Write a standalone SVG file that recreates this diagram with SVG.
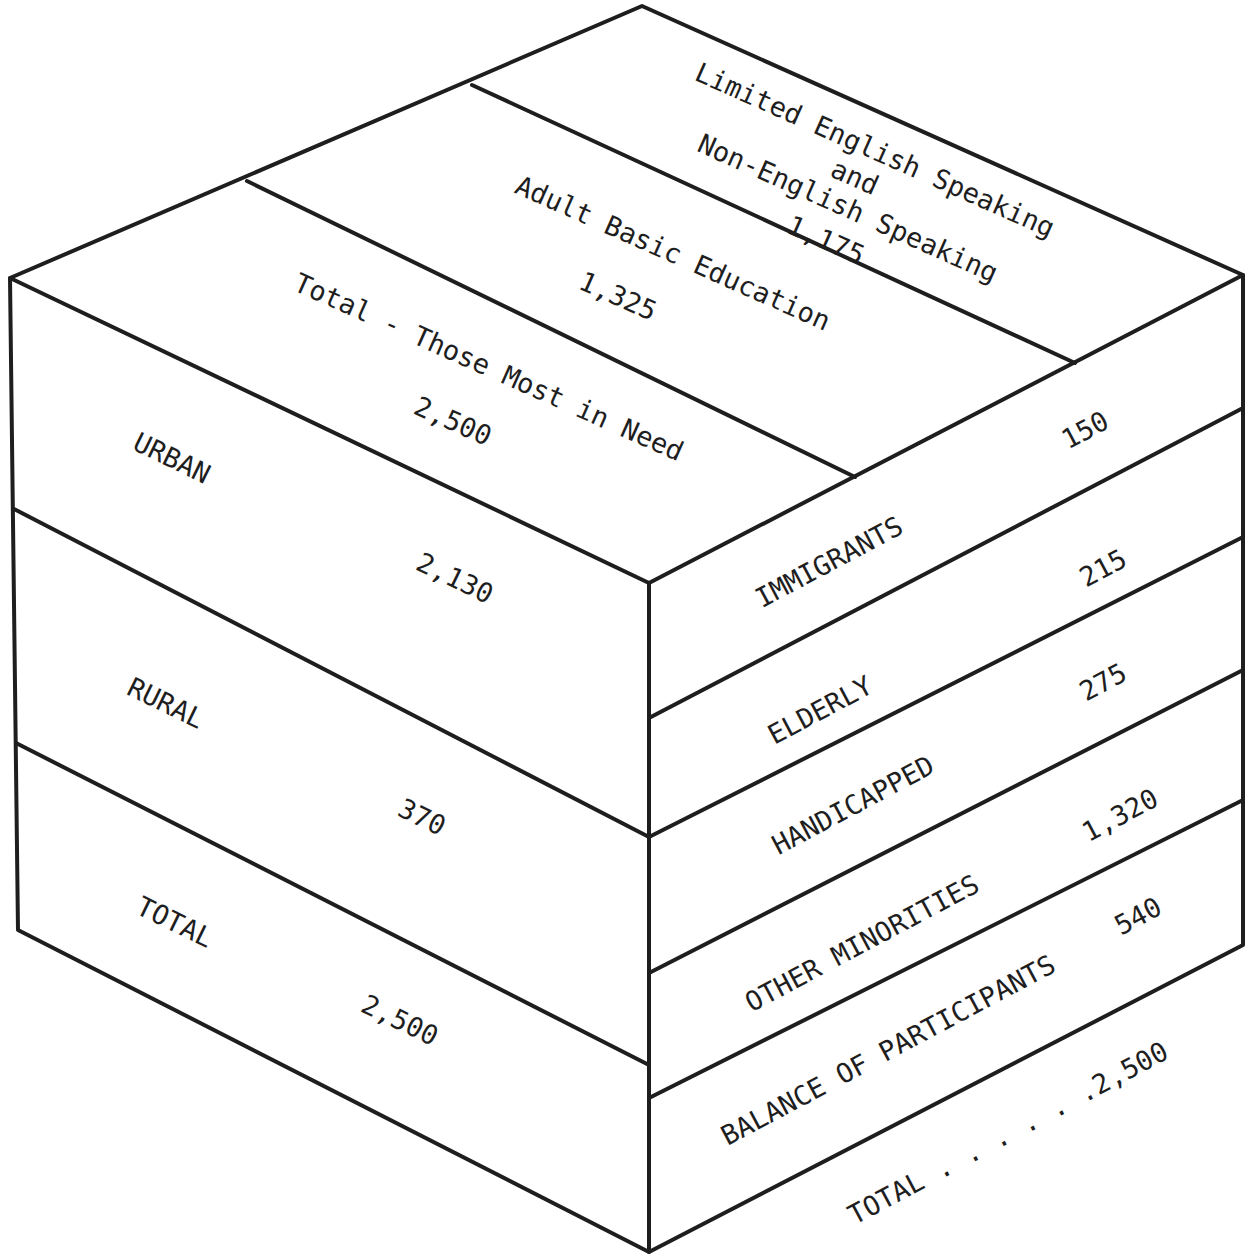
<svg xmlns="http://www.w3.org/2000/svg" width="1250" height="1256" viewBox="0 0 1250 1256">
<style>
.ln{stroke:#1e1e1e;stroke-width:4;fill:none;stroke-linejoin:round;stroke-linecap:round}
text{font-family:"DejaVu Sans Mono","Liberation Mono",monospace;font-size:27px;fill:#1e1e1e;text-anchor:middle}
</style>
<rect width="1250" height="1256" fill="#ffffff"/>
<g id="connectors">
<path class="ln" d="M10,278 L642,6 L1243,275 L1243,945 L649,1252 L18,930 Z"/>
<path class="ln" d="M10,278 L649,583 L1243,275"/>
<path class="ln" d="M649,583 L649,1252"/>
<path class="ln" d="M472,85 L1075,363"/>
<path class="ln" d="M247,181 L855,477"/>
<path class="ln" d="M14,509 L649,837"/>
<path class="ln" d="M16,743 L649,1065"/>
<path class="ln" d="M649,718 L1243,408"/>
<path class="ln" d="M649,837 L1243,537"/>
<path class="ln" d="M649,973 L1243,670"/>
<path class="ln" d="M649,1098 L1243,800"/>
</g>
<g id="top-lep"><text transform="translate(875,150) rotate(24)" dy="0.35em">Limited English Speaking</text>
<text transform="translate(855,177) rotate(24)" dy="0.35em">and</text>
<text transform="translate(848,208) rotate(24)" dy="0.35em">Non-English Speaking</text>
<text transform="translate(826,240) rotate(24)" dy="0.35em">1,175</text></g>
<g id="top-abe"><text transform="translate(673,253) rotate(24)" dy="0.35em">Adult Basic Education</text>
<text transform="translate(618,296) rotate(24)" dy="0.35em">1,325</text></g>
<g id="top-total"><text transform="translate(489,367) rotate(24)" dy="0.35em">Total - Those Most in Need</text>
<text transform="translate(453,421) rotate(24)" dy="0.35em">2,500</text></g>
<g id="left-urban"><text transform="translate(172,458) rotate(26)" dy="0.35em">URBAN</text>
<text transform="translate(455,578) rotate(26)" dy="0.35em">2,130</text></g>
<g id="left-rural"><text transform="translate(166,703) rotate(26)" dy="0.35em">RURAL</text>
<text transform="translate(422,817) rotate(26)" dy="0.35em">370</text></g>
<g id="left-total"><text transform="translate(175,922) rotate(26)" dy="0.35em">TOTAL</text>
<text transform="translate(400,1020) rotate(26)" dy="0.35em">2,500</text></g>
<g id="right-immigrants"><text transform="translate(1085,430) rotate(-28)" dy="0.35em">150</text>
<text transform="translate(829,562) rotate(-28)" dy="0.35em">IMMIGRANTS</text></g>
<g id="right-elderly"><text transform="translate(1103,568) rotate(-28)" dy="0.35em">215</text>
<text transform="translate(820,710) rotate(-28)" dy="0.35em">ELDERLY</text></g>
<g id="right-handicapped"><text transform="translate(1103,682) rotate(-28)" dy="0.35em">275</text>
<text transform="translate(853,805) rotate(-28)" dy="0.35em">HANDICAPPED</text></g>
<g id="right-minorities"><text transform="translate(1120,815) rotate(-28)" dy="0.35em">1,320</text>
<text transform="translate(862,943) rotate(-28)" dy="0.35em">OTHER MINORITIES</text></g>
<g id="right-balance"><text transform="translate(1138,916) rotate(-28)" dy="0.35em">540</text>
<text transform="translate(888,1050) rotate(-28)" dy="0.35em">BALANCE OF PARTICIPANTS</text></g>
<g id="right-total"><text transform="translate(1008,1133) rotate(-28)" dy="0.35em">TOTAL . . . . . .2,500</text></g>
</svg>
